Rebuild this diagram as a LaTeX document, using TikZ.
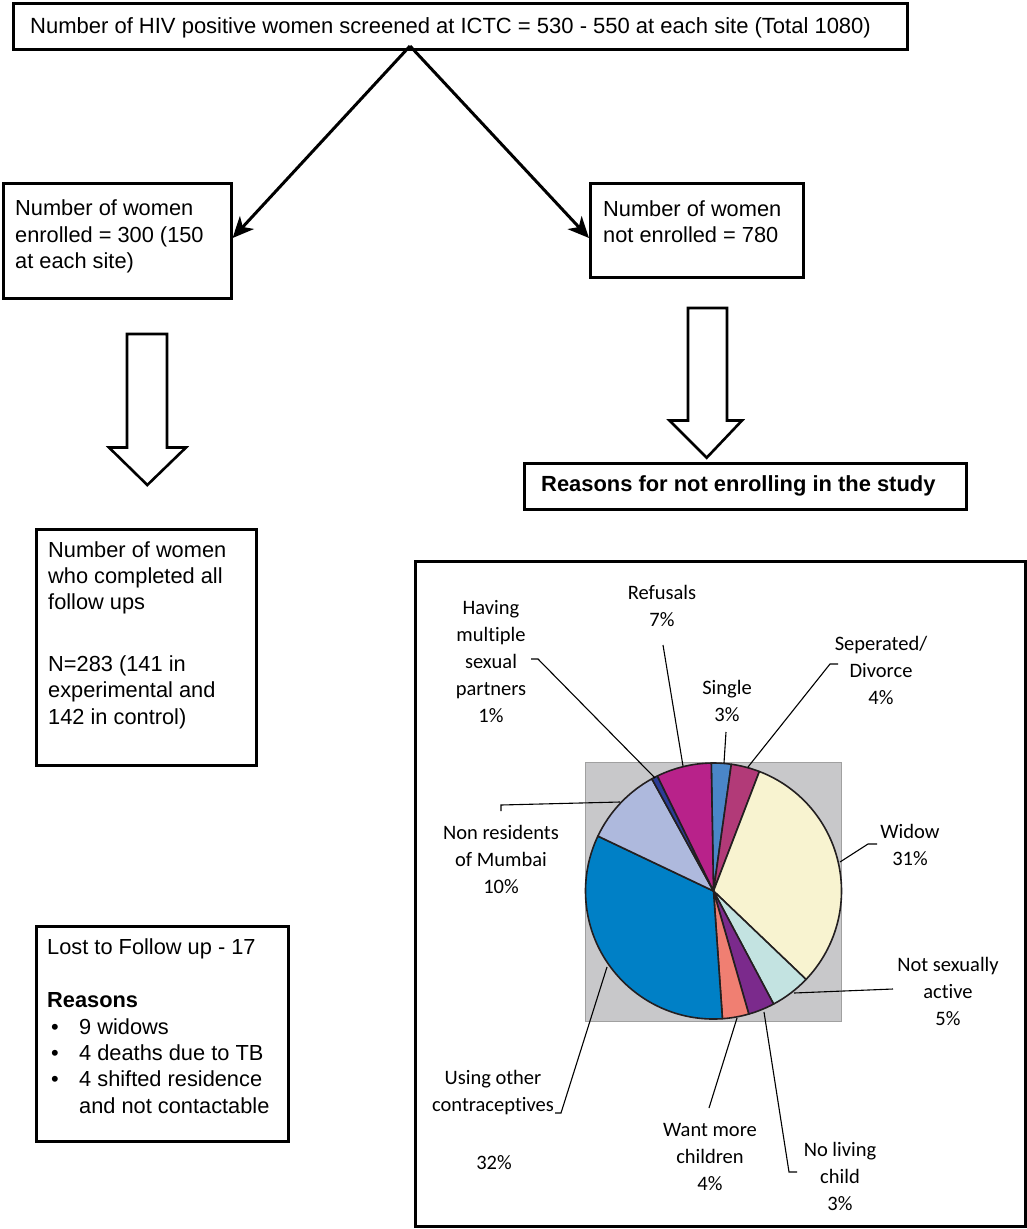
\documentclass[tikz,border=0pt]{standalone}
\usepackage{fontspec}
\setmainfont{Liberation Sans}
\newfontfamily\calfont[Ligatures={NoCommon,NoRequired}]{Carlito}
\usetikzlibrary{arrows.meta}
\definecolor{cSingle}{HTML}{4A86C8}
\definecolor{cSep}{HTML}{B23A78}
\definecolor{cWidow}{HTML}{F8F3D0}
\definecolor{cNSA}{HTML}{C3E3E1}
\definecolor{cNLC}{HTML}{7B2A8C}
\definecolor{cWMC}{HTML}{F07F72}
\definecolor{cUsing}{HTML}{0080C6}
\definecolor{cNonRes}{HTML}{AEB9DD}
\definecolor{cHaving}{HTML}{2B3C96}
\definecolor{cRef}{HTML}{B8228A}
\definecolor{plotgray}{HTML}{C8C8CA}
\definecolor{edgegray}{HTML}{A0A0A0}
\definecolor{ink}{HTML}{231F20}
\newcommand{\pieslice}[3]{%
  \filldraw[fill=#3, draw=ink, line width=1.6pt, line join=round]
    (pc) -- ++({-(#1)}:128) arc[start angle={-(#1)}, end angle={-(#2)}, radius=128] -- cycle;}
\begin{document}
\begin{tikzpicture}[x=1pt, y=-1pt,
  box/.style={draw=black, line width=2.6pt, fill=white, inner sep=0pt, anchor=north west},
  boxtext/.style={anchor=west, align=left, inner sep=0pt, font=\fontsize{21.8}{26.4}\selectfont},
  lbl/.style={align=center, font=\calfont\fontsize{20.5}{27}\selectfont, inner sep=0pt},
  leader/.style={draw=black, line width=1.1pt},
  flowarrow/.style={draw=black, line width=3pt, -{Stealth[length=21pt, width=19pt, inset=6pt]}},
  hollow/.style={draw=black, line width=2.6pt, fill=white, line join=miter}]
\useasboundingbox (0,0) rectangle (1027,1229);

% top box
\node[box, minimum width=894pt, minimum height=46pt] (top) at (12,2) {};
\node[boxtext, font=\fontsize{22}{26}\selectfont] (topt) at (30,28)
  {Number of HIV positive women screened at ICTC = 530 - 550 at each site (Total 1080)};
% enrolled / not enrolled
\node[box, minimum width=228pt, minimum height=115pt] (enr) at (2,182) {};
\node[boxtext] (enrt) at (15,236.5) {Number of women\\enrolled = 300 (150\\at each site)};
\node[box, minimum width=213pt, minimum height=94pt] (notenr) at (589,182) {};
\node[boxtext] (notenrt) at (603,221.5) {Number of women\\not enrolled = 780};
\coordinate (apex) at (410,46);
\draw[flowarrow] (apex) -- (enr.east |- 0,238);
\draw[flowarrow] (apex) -- (notenr.west |- 0,238);

% hollow arrows
\draw[hollow] (127,334) -- (167,334) -- (167,447.5) -- (186,447.5) -- (147.3,485) -- (109,447.5) -- (127,447.5) -- cycle;
\draw[hollow] (688,308) -- (727,308) -- (727,420.5) -- (742,420.5) -- (706.7,457.7) -- (669.5,420.5) -- (688,420.5) -- cycle;

% reasons header
\node[box, minimum width=442pt, minimum height=46pt] (reasons) at (523,462) {};
\node[boxtext, font=\bfseries\fontsize{21.9}{26}\selectfont] (reasonst) at (541,485.5)
  {Reasons for not enrolling in the study};

% completed box
\node[box, minimum width=220pt, minimum height=236pt] (compl) at (35,528) {};
\node[boxtext] (complt) at (48,635)
  {Number of women\\who completed all\\follow ups\\[35pt]N=283 (141 in\\experimental and\\142 in control)};

% lost box
\node[box, minimum width=252pt, minimum height=215pt] (lost) at (35,925) {};
\node[boxtext] (lostt) at (47,1026)
  {Lost to Follow up - 17\\[27pt]
   \textbf{Reasons}\\
   \makebox[32pt][l]{\hspace{4pt}•}9 widows\\
   \makebox[32pt][l]{\hspace{4pt}•}4 deaths due to TB\\
   \makebox[32pt][l]{\hspace{4pt}•}4 shifted residence\\
   \makebox[32pt][l]{}and not contactable};

% chart frame
\node[draw=black, line width=2.6pt, minimum width=610pt, minimum height=665pt, anchor=north west, inner sep=0pt] (chart) at (414,560) {};
\node[draw=edgegray, line width=1.2pt, fill=plotgray, minimum width=256pt, minimum height=259pt, anchor=north west, inner sep=0pt] (plot) at (585,762) {};

% pie
\coordinate (pc) at (713.5,891);
\pieslice{91}{82}{cSingle}
\pieslice{82}{69}{cSep}
\pieslice{69}{-43.7}{cWidow}
\pieslice{-43.7}{-62}{cNSA}
\pieslice{-62}{-74}{cNLC}
\pieslice{-74}{-86}{cWMC}
\pieslice{-86}{-205.4}{cUsing}
\pieslice{-205.4}{-241.2}{cNonRes}
\pieslice{-241.2}{-244}{cHaving}
\pieslice{-244}{-269}{cRef}

% labels
\node[lbl] (lHaving) at (491,662) {Having\\multiple\\sexual\\partners\\1\%};
\node[lbl] (lRef) at (662,606) {Refusals\\7\%};
\node[lbl] (lSingle) at (727,701) {Single\\3\%};
\node[lbl] (lSep) at (881,670) {Seperated/\\Divorce\\4\%};
\node[lbl] (lWidow) at (910,845) {Widow\\31\%};
\node[lbl] (lNSA) at (948,991) {Not sexually\\active\\5\%};
\node[lbl] (lNonRes) at (501,859) {Non residents\\of Mumbai\\10\%};
\node[lbl] (lUsing) at (493,1093) {Using other\\contraceptives};
\node[lbl] (lUsingP) at (494,1163) {32\%};
\node[lbl] (lWMC) at (710,1157) {Want more\\children\\4\%};
\node[lbl] (lNLC) at (840,1176) {No living\\child\\3\%};

% leader lines
\coordinate (eHaving) at (655,778);
\coordinate (eRef) at (683,766);
\coordinate (eSingle) at (724,763);
\coordinate (eSep) at (748,767);
\coordinate (eWidow) at (840,862);
\coordinate (eNSA) at (794,993);
\coordinate (eNLC) at (764,1012);
\coordinate (eWMC) at (737,1018);
\coordinate (eUsing) at (607,967);
\coordinate (eNonRes) at (620,802);
\draw[leader] (531,659) -- (538,659) -- (eHaving);
\draw[leader] (663,645) -- (eRef);
\draw[leader] (726,732) -- (eSingle);
\draw[leader] (838,664) -- (830,664) -- (eSep);
\draw[leader] (877,844) -- (868,844) -- (eWidow);
\draw[leader] (893,989) -- (eNSA);
\draw[leader] (797,1172) -- (789,1172) -- (eNLC);
\draw[leader] (709,1108) -- (eWMC);
\draw[leader] (555,1113) -- (561,1113) -- (eUsing);
\draw[leader] (501,811) -- (501,805) -- (eNonRes);
\end{tikzpicture}
\end{document}
